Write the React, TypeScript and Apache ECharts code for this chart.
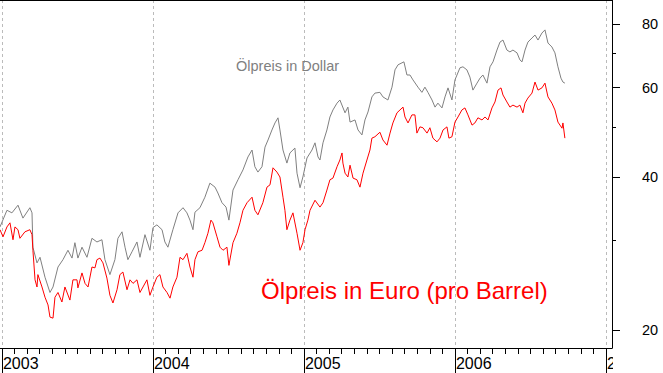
import React, { useEffect, useRef } from "react";
import * as echarts from "echarts";

// Decimal years (2003.5 = mid 2003) and Brent prices
const usdYears = [
  2002.987, 2003.033, 2003.066, 2003.106, 2003.139, 2003.185, 2003.199, 2003.205, 2003.232, 2003.252,
  2003.285, 2003.318, 2003.338, 2003.371, 2003.404, 2003.437, 2003.464, 2003.483, 2003.503, 2003.53,
  2003.563, 2003.596, 2003.629, 2003.662, 2003.682, 2003.715, 2003.748, 2003.768, 2003.795, 2003.815,
  2003.834, 2003.861, 2003.894, 2003.914, 2003.947, 2003.98, 2004.0, 2004.026, 2004.06, 2004.079,
  2004.099, 2004.132, 2004.166, 2004.199, 2004.225, 2004.245, 2004.265, 2004.278, 2004.311, 2004.344,
  2004.377, 2004.411, 2004.43, 2004.457, 2004.484, 2004.503, 2004.53, 2004.563, 2004.596, 2004.629,
  2004.656, 2004.675, 2004.695, 2004.722, 2004.742, 2004.762, 2004.788, 2004.808, 2004.828, 2004.841,
  2004.861, 2004.887, 2004.907, 2004.94, 2004.954, 2004.974, 2004.993, 2005.02, 2005.053, 2005.073,
  2005.093, 2005.106, 2005.126, 2005.152, 2005.172, 2005.192, 2005.219, 2005.238, 2005.272, 2005.291,
  2005.305, 2005.338, 2005.358, 2005.384, 2005.404, 2005.424, 2005.45, 2005.47, 2005.503, 2005.523,
  2005.556, 2005.583, 2005.603, 2005.623, 2005.649, 2005.662, 2005.682, 2005.702, 2005.722, 2005.755,
  2005.781, 2005.801, 2005.821, 2005.848, 2005.868, 2005.887, 2005.914, 2005.934, 2005.954, 2005.98,
  2006.0, 2006.033, 2006.053, 2006.079, 2006.099, 2006.119, 2006.146, 2006.166, 2006.185, 2006.212,
  2006.232, 2006.252, 2006.278, 2006.298, 2006.318, 2006.344, 2006.364, 2006.384, 2006.411, 2006.43,
  2006.444, 2006.464, 2006.483, 2006.51, 2006.53, 2006.55, 2006.576, 2006.596, 2006.616, 2006.642,
  2006.662, 2006.682, 2006.702, 2006.715, 2006.728,
];
const usdPrices = [
  31.9, 34.4, 34.0, 35.2, 33.2, 34.8, 34.0, 29.1, 27.1, 27.8,
  25.4, 23.7, 24.3, 26.6, 27.5, 28.7, 27.7, 29.7, 27.7, 29.1,
  27.8, 30.3, 29.8, 30.1, 27.5, 25.7, 27.5, 30.3, 31.2, 29.1,
  27.5, 28.5, 29.8, 27.8, 30.8, 28.7, 31.8, 32.2, 31.5, 29.8,
  29.1, 31.5, 34.0, 34.8, 34.0, 32.9, 31.5, 34.1, 34.8, 36.5,
  38.9, 38.2, 37.2, 35.6, 34.9, 32.9, 37.7, 39.5, 41.3, 43.8,
  45.2, 41.9, 40.9, 41.9, 45.8, 47.3, 49.5, 51.1, 52.3, 49.5,
  45.2, 42.6, 44.6, 45.6, 40.7, 38.1, 40.0, 43.6, 45.2, 46.7,
  43.8, 43.2, 46.7, 49.5, 52.5, 54.2, 55.9, 56.7, 53.5, 54.9,
  51.3, 51.8, 49.5, 48.4, 51.8, 53.7, 57.5, 58.5, 58.7, 57.5,
  56.7, 60.1, 65.0, 66.5, 67.1, 67.4, 63.5, 63.5, 62.1, 60.1,
  58.7, 60.1, 58.7, 56.7, 54.9, 55.9, 54.7, 57.5, 59.9, 56.7,
  62.1, 65.6, 65.9, 65.0, 62.9, 59.3, 61.2, 62.6, 63.5, 61.2,
  65.9, 67.4, 71.1, 73.7, 74.4, 71.1, 70.5, 71.1, 70.2, 68.0,
  67.4, 71.1, 73.7, 75.1, 76.1, 74.4, 76.8, 77.9, 73.4, 72.1,
  70.2, 65.9, 62.6, 61.5, 61.2,
];
const eurYears = [
  2002.987, 2003.007, 2003.033, 2003.053, 2003.073, 2003.086, 2003.106, 2003.119, 2003.152, 2003.185,
  2003.199, 2003.205, 2003.219, 2003.232, 2003.238, 2003.265, 2003.285, 2003.305, 2003.318, 2003.338,
  2003.351, 2003.371, 2003.397, 2003.417, 2003.45, 2003.47, 2003.497, 2003.503, 2003.53, 2003.55,
  2003.57, 2003.596, 2003.616, 2003.629, 2003.649, 2003.669, 2003.695, 2003.715, 2003.735, 2003.762,
  2003.781, 2003.801, 2003.828, 2003.848, 2003.868, 2003.894, 2003.914, 2003.934, 2003.96, 2003.98,
  2004.0, 2004.026, 2004.046, 2004.066, 2004.093, 2004.113, 2004.132, 2004.159, 2004.179, 2004.199,
  2004.225, 2004.245, 2004.265, 2004.278, 2004.298, 2004.325, 2004.344, 2004.364, 2004.384, 2004.397,
  2004.424, 2004.444, 2004.464, 2004.49, 2004.503, 2004.53, 2004.556, 2004.576, 2004.596, 2004.623,
  2004.656, 2004.675, 2004.695, 2004.728, 2004.755, 2004.775, 2004.795, 2004.821, 2004.841, 2004.861,
  2004.874, 2004.887, 2004.907, 2004.927, 2004.954, 2004.974, 2004.993, 2005.007, 2005.026, 2005.04,
  2005.073, 2005.106, 2005.126, 2005.152, 2005.172, 2005.192, 2005.219, 2005.238, 2005.252, 2005.258,
  2005.272, 2005.291, 2005.305, 2005.325, 2005.351, 2005.371, 2005.391, 2005.417, 2005.437, 2005.45,
  2005.47, 2005.503, 2005.523, 2005.55, 2005.57, 2005.589, 2005.616, 2005.636, 2005.656, 2005.669,
  2005.689, 2005.715, 2005.735, 2005.748, 2005.768, 2005.788, 2005.815, 2005.834, 2005.854, 2005.881,
  2005.901, 2005.921, 2005.947, 2005.96, 2005.98, 2006.0, 2006.02, 2006.046, 2006.066, 2006.086,
  2006.113, 2006.132, 2006.152, 2006.179, 2006.199, 2006.219, 2006.245, 2006.265, 2006.285, 2006.305,
  2006.318, 2006.344, 2006.364, 2006.384, 2006.411, 2006.43, 2006.45, 2006.464, 2006.483, 2006.51,
  2006.53, 2006.55, 2006.576, 2006.596, 2006.616, 2006.642, 2006.662, 2006.682, 2006.709, 2006.715,
  2006.728,
];
const eurPrices = [
  31.5, 30.5, 31.9, 32.5, 30.1, 31.9, 31.5, 30.3, 31.2, 31.5,
  30.8, 28.7, 25.1, 24.3, 25.7, 24.3, 23.2, 22.4, 21.2, 21.1,
  23.2, 23.7, 22.7, 24.3, 22.9, 25.1, 25.1, 24.2, 25.9, 24.7,
  24.3, 26.6, 26.5, 27.5, 27.7, 27.1, 25.3, 23.4, 22.6, 24.0,
  25.7, 26.0, 24.0, 25.1, 24.7, 25.1, 23.7, 24.3, 25.1, 23.4,
  24.3, 25.4, 25.7, 24.3, 23.7, 23.1, 24.3, 25.4, 27.8, 27.5,
  28.3, 26.6, 25.4, 27.5, 28.5, 28.7, 29.7, 31.0, 32.9, 32.5,
  30.5, 29.1, 28.7, 29.1, 26.8, 29.7, 31.0, 32.5, 34.4, 35.6,
  36.5, 34.4, 33.7, 35.6, 38.2, 38.6, 41.7, 40.9, 40.0, 36.5,
  34.4, 31.5, 32.9, 34.0, 31.0, 28.7, 29.7, 31.5, 32.9, 34.4,
  36.0, 34.9, 35.6, 37.7, 39.5, 39.8, 41.9, 43.2, 44.6, 42.6,
  40.7, 40.0, 42.2, 39.8, 39.5, 38.2, 40.7, 43.2, 45.2, 47.7,
  48.0, 49.0, 47.3, 46.2, 48.8, 51.1, 53.5, 54.2, 54.9, 52.5,
  51.1, 53.0, 53.0, 48.8, 50.2, 50.0, 48.8, 50.0, 47.7, 46.9,
  47.7, 49.5, 50.2, 47.7, 48.0, 51.3, 52.5, 54.2, 54.7, 53.0,
  50.6, 51.1, 52.3, 51.8, 52.5, 51.8, 54.7, 56.2, 59.3, 59.9,
  58.0, 56.2, 54.9, 55.4, 54.9, 55.4, 53.5, 55.9, 57.2, 58.5,
  61.5, 59.3, 59.9, 61.2, 57.5, 55.9, 54.2, 51.3, 49.9, 51.1,
  47.7,
];

const yearTicks = [2003, 2004, 2005, 2006, 2007];
const priceTicks = [20, 40, 60, 80];
const priceMinorTicks = [20, 30, 40, 50, 60, 70, 80];
const usdLabel = "Ölpreis in Dollar";
const eurLabel = "Ölpreis in Euro (pro Barrel)";

export default function App() {
  const ref = useRef<HTMLDivElement>(null);

  useEffect(() => {
    document.body.style.margin = "0";
    const chart = echarts.init(ref.current!, null, { renderer: "svg" });
    const font = "'Liberation Sans', Arial, sans-serif";
    const monthTicks: number[] = [];
    for (const y of [2003, 2004, 2005, 2006]) {
      for (let m = 1; m < 12; m++) monthTicks.push(y + m / 12);
    }
    const xMin = 2002.987;
    const xMax = 2007.04;
    const yMin = 18.43;
    const yMax = 89.2;
    const black = { color: "#000", width: 1 };

    chart.setOption({
      animation: false,
      backgroundColor: "#fff",
      grid: { left: 0, right: 51, top: 0, bottom: 25, containLabel: false, outerBoundsMode: "none" },
      xAxis: [
        {
          type: "value", min: xMin, max: xMax, position: "bottom",
          axisLine: { show: true, onZero: false, lineStyle: black },
          axisTick: { show: true, customValues: monthTicks, length: 6, lineStyle: black },
          axisLabel: { show: false },
          splitLine: { show: false },
        },
        {
          type: "value", min: xMin, max: xMax, position: "bottom",
          axisLine: { show: false, onZero: false },
          axisTick: { show: true, customValues: yearTicks, length: 25, lineStyle: black },
          axisLabel: {
            show: true, customValues: yearTicks,
            formatter: (v: number) => String(Math.round(v)),
            align: "left", padding: [0, 0, 0, 1], margin: 7,
            color: "#000", fontSize: 16, fontFamily: font,
          },
          splitLine: { show: true, lineStyle: { color: "#bbbbbb", width: 1, type: [3, 3] } },
        },
        {
          type: "value", min: xMin, max: xMax, position: "top",
          axisLine: { show: true, onZero: false, lineStyle: black },
          axisTick: { show: false }, axisLabel: { show: false }, splitLine: { show: false },
        },
      ],
      yAxis: [
        {
          type: "log", logBase: 10, min: yMin, max: yMax, position: "right",
          axisLine: { show: true, onZero: false, lineStyle: black },
          axisTick: { show: true, customValues: priceMinorTicks, length: 4, lineStyle: black },
          axisLabel: { show: false },
          splitLine: { show: false },
        },
        {
          type: "log", logBase: 10, min: yMin, max: yMax, position: "right",
          axisLine: { show: false, onZero: false },
          axisTick: { show: true, customValues: priceTicks, length: 8, lineStyle: black },
          axisLabel: {
            show: true, customValues: priceTicks, margin: 30,
            color: "#000", fontSize: 14.5, fontFamily: font,
          },
          splitLine: { show: false },
        },
      ],
      series: [
        {
          name: usdLabel, type: "line", xAxisIndex: 0, yAxisIndex: 0,
          data: usdYears.map((t, i) => [t, usdPrices[i]]),
          showSymbol: false, symbol: "none",
          lineStyle: { color: "#808080", width: 1 }, z: 2,
        },
        {
          name: eurLabel, type: "line", xAxisIndex: 0, yAxisIndex: 0,
          data: eurYears.map((t, i) => [t, eurPrices[i]]),
          showSymbol: false, symbol: "none",
          lineStyle: { color: "#ff0000", width: 1 }, z: 3,
        },
      ],
      graphic: [
        {
          type: "text", x: 236, y: 65.7, z: 50,
          style: { text: usdLabel, fill: "#808080", fontSize: 14.5, fontFamily: font, verticalAlign: "middle" },
        },
        {
          type: "text", x: 261, y: 290.7, z: 50,
          style: { text: eurLabel, fill: "#ff0000", fontSize: 24, fontFamily: font, verticalAlign: "middle" },
        },
        {
          type: "rect", z: 100,
          shape: { x: 613, y: 350, width: 50, height: 23 },
          style: { fill: "#fff" },
        },
      ],
    });
    return () => chart.dispose();
  }, []);

  return <div ref={ref} style={{ width: 663, height: 373 }} />;
}
